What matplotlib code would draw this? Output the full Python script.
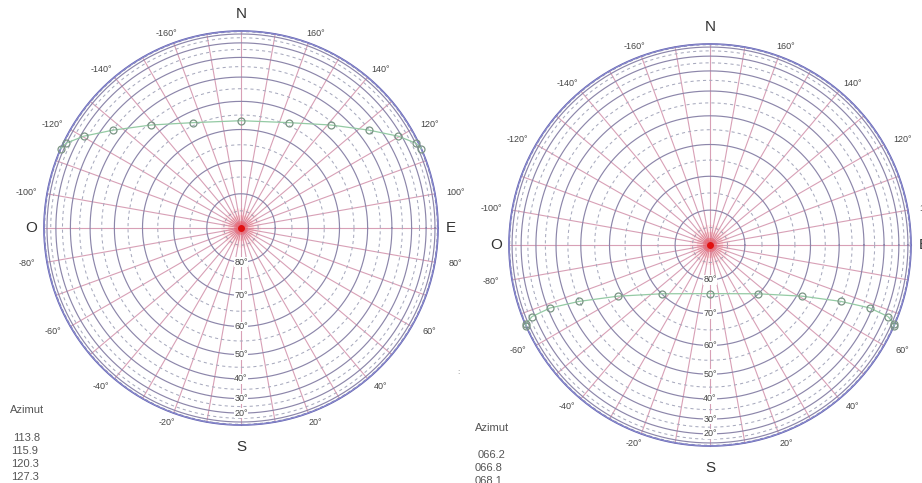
import numpy as np
import matplotlib
matplotlib.use("Agg")
import matplotlib.pyplot as plt
from matplotlib.patches import Circle

plt.rcParams["font.family"] = ["Liberation Sans", "DejaVu Sans"]

# sun path (azimuth from south, + towards east; altitude)
sun1_az = [-113.8, -115.9, -120.3, -127.3, -138.8, -155.5, 180, 155.5, 138.8, 127.3, 120.3, 115.9, 113.8]
sun1_alt = [0, 9.5, 22.5, 35, 46, 54, 57, 54, 46, 35, 22.5, 9.5, 0]
sun2_az = [-66.2, -66.8, -68.1, -68.5, -66.7, -61, -44.8, 0, 44.8, 61, 66.7, 68.5, 68.1, 66.8, 66.2]
sun2_alt = [0, 4, 17.5, 31.3, 44.8, 58.3, 70, 76, 70, 58.3, 44.8, 31.3, 17.5, 4, 0]

# tables printed under each diagram
azimut1 = [113.8, 115.9, 120.3, 127.3]
azimut2 = [66.2, 66.8, 68.1]

az_labels = [-160, -140, -120, -100, -80, -60, -40, -20, 20, 40, 60, 80, 100, 120, 140, 160]
alt_labels = [20, 30, 40, 50, 60, 70, 80]
compass = {"N": 180, "S": 0, "E": 90, "O": -90}

W, H = 922, 483


def proj(az, alt):
    a = np.radians(np.asarray(az, dtype=float))
    h = np.radians(np.asarray(alt, dtype=float))
    return np.cos(h) * np.sin(a), -np.cos(h) * np.cos(a)


def make_ax(fig, cx, cy, R, L=1.2):
    size = 2 * L * R
    ax = fig.add_axes([(cx - L * R) / W, (H - cy - L * R) / H, size / W, size / H])
    ax.set_xlim(-L, L)
    ax.set_ylim(-L, L)
    ax.set_aspect("equal")
    ax.axis("off")
    ax.patch.set_alpha(0)
    return ax


def draw_chart(ax, s_az, s_alt):
    t = np.linspace(0, 2 * np.pi, 721)
    # radial azimuth lines every 10 deg
    for a in range(0, 360, 10):
        x, y = proj([a, a], [90, 0])
        ax.plot(x, y, color="#d8a0b6", lw=0.8, zorder=1)
    # altitude circles
    for alt in range(10, 90, 10):
        r = np.cos(np.radians(alt))
        ax.plot(r * np.cos(t), r * np.sin(t), color="#8c86aa", lw=0.85, zorder=2)
    for alt in range(5, 90, 10):
        r = np.cos(np.radians(alt))
        ax.plot(r * np.cos(t), r * np.sin(t), color="#a8aabe", lw=0.75,
                ls=(0, (3, 3)), zorder=2)
    # rim
    ax.plot(np.cos(t), np.sin(t), color="#6464b0", lw=1.2, zorder=3)
    r2 = np.cos(np.radians(2.5))
    ax.plot(r2 * np.cos(t), r2 * np.sin(t), color="#8c8cd0", lw=0.7, zorder=3)

    # red glow at zenith
    for rad, al in [(0.1, 0.05), (0.065, 0.09), (0.035, 0.2)]:
        ax.add_patch(Circle((0, 0), rad, color="red", alpha=al, lw=0, zorder=4))
    ax.plot(0, 0, "o", color="#e01010", ms=4, zorder=5)

    # altitude labels along the south meridian
    for alt in alt_labels:
        x, y = proj(0, alt)
        ax.text(x, y, f"{alt}°", ha="center", va="center", fontsize=6.5, color="#444444",
                bbox=dict(boxstyle="square,pad=0.05", fc="white", ec="none"), zorder=6)

    # azimuth labels
    for a in az_labels:
        s, c = np.sin(np.radians(a)), np.cos(np.radians(a))
        ax.text(1.105 * s, -1.05 * c, f"{a}°", ha="center", va="center",
                fontsize=6.5, color="#444444")
    for k, a in compass.items():
        s, c = np.sin(np.radians(a)), np.cos(np.radians(a))
        fy = 1.085 if c < 0 else 1.11
        ax.text(1.065 * s, -fy * c, k, ha="center", va="center", fontsize=11, color="#333333")

    # sun path
    x, y = proj(s_az, s_alt)
    ax.plot(x, y, color="#94caa4", lw=0.9, zorder=7)
    ax.plot(x, y, "o", ms=5, mfc="none", mec="#7a9484", mew=0.9, zorder=8)


fig = plt.figure(figsize=(W / 100, H / 100), dpi=100)
fig.patch.set_facecolor("white")

ax1 = make_ax(fig, 241, 228, 197)
draw_chart(ax1, sun1_az, sun1_alt)
ax2 = make_ax(fig, 710, 245, 201)
draw_chart(ax2, sun2_az, sun2_alt)

# azimuth tables
fig.text(10 / W, 1 - 410 / H, "Azimut", fontsize=8, color="#555555", va="center")
for i, v in enumerate(azimut1):
    fig.text((13 if i == 0 else 11) / W, 1 - (438 + 13 * i) / H, f"{v:.1f}",
             fontsize=8, color="#555555", va="center")
fig.text(475 / W, 1 - 428 / H, "Azimut", fontsize=8, color="#555555", va="center")
for i, v in enumerate(azimut2):
    fig.text((478 if i == 0 else 475) / W, 1 - (455 + 13 * i) / H, f"{v:05.1f}",
             fontsize=8, color="#555555", va="center")
fig.text(457 / W, 1 - 373 / H, ":", fontsize=6, color="#777777", va="center")

fig.savefig("out.png", dpi=100, facecolor="white")
